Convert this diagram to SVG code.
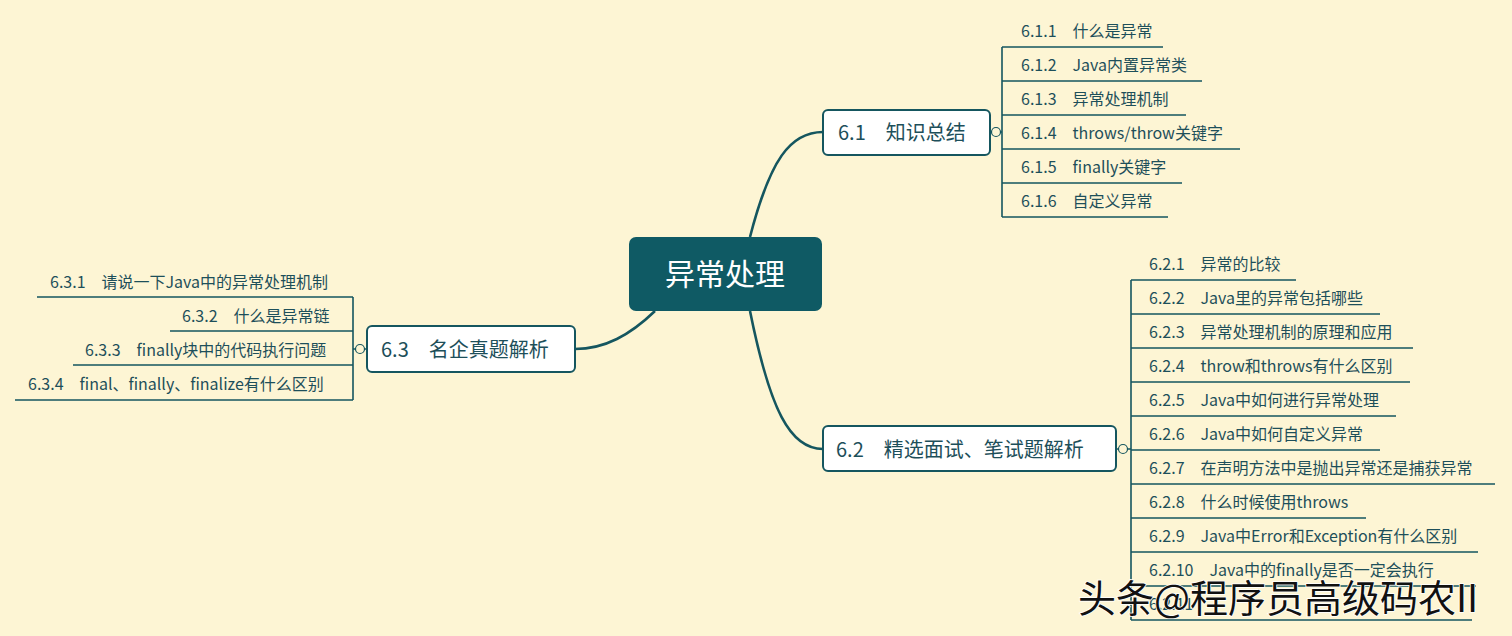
<svg xmlns="http://www.w3.org/2000/svg" width="1512" height="636" viewBox="0 0 1512 636">
<style>
text{font-family:"Noto Sans CJK SC","Liberation Sans",sans-serif;fill:#1d4f5a}
.it{font-size:16px}
.br{font-size:20px}
.ln{stroke:#15565f;stroke-width:1.6;fill:none}
.cv{stroke:#15565f;stroke-width:2.6;fill:none}
.bx{fill:#fff;stroke:#15565f;stroke-width:2}
.cc{fill:#fdf5d4;stroke:#15565f;stroke-width:1.2}
</style>
<rect width="1512" height="636" fill="#fdf5d4"/>
<g id="connectors">
<path class="cv" d="M750 237 C770 160 790 132 823 132"/>
<path class="cv" d="M750 311 C770 410 790 449 823 449"/>
<path class="cv" d="M655 311 C630 335 605 349 575 349"/>
<path class="ln" d="M990 132 H1002 M1002 47 V217 M1002 47 H1163 M1002 81 H1202 M1002 115 H1186 M1002 149 H1240 M1002 183 H1182 M1002 217 H1168"/>
<path class="ln" d="M1116 449 H1131 M1131 280 V620 M1131 280 H1296 M1131 314 H1380 M1131 348 H1413 M1131 382 H1410 M1131 416 H1396 M1131 450 H1380 M1131 484 H1495 M1131 518 H1366 M1131 552 H1478 M1131 586 H1476 M1131 620 H1472"/>
<path class="ln" d="M367 349 H353 M353 297 V400 M353 297 H37 M353 331 H170 M353 365 H73 M353 400 H15"/>
<circle class="cc" cx="996" cy="132" r="4.5"/>
<circle class="cc" cx="1123" cy="449" r="4.5"/>
<circle class="cc" cx="360" cy="349" r="4.5"/>
</g>
<g id="root"><rect x="629" y="237" width="193" height="74" rx="7" fill="#0f5a64"/><text x="725" y="285" text-anchor="middle" style="font-size:30px;fill:#fff">异常处理</text></g>
<g id="n61"><rect class="bx" x="823" y="110" width="167" height="45" rx="5"/><text class="br" x="838" y="140">6.1　知识总结</text></g>
<g id="n62"><rect class="bx" x="823" y="426" width="293" height="45" rx="5"/><text class="br" x="836" y="457">6.2　精选面试、笔试题解析</text></g>
<g id="n63"><rect class="bx" x="367" y="326" width="208" height="46" rx="5"/><text class="br" x="381" y="357">6.3　名企真题解析</text></g>
<g id="i61">
<text class="it" x="1021" y="37">6.1.1　什么是异常</text>
<text class="it" x="1021" y="71">6.1.2　Java内置异常类</text>
<text class="it" x="1021" y="105">6.1.3　异常处理机制</text>
<text class="it" x="1021" y="139">6.1.4　throws/throw关键字</text>
<text class="it" x="1021" y="173">6.1.5　finally关键字</text>
<text class="it" x="1021" y="207">6.1.6　自定义异常</text>
</g>
<g id="i62">
<text class="it" x="1149" y="270">6.2.1　异常的比较</text>
<text class="it" x="1149" y="304">6.2.2　Java里的异常包括哪些</text>
<text class="it" x="1149" y="338">6.2.3　异常处理机制的原理和应用</text>
<text class="it" x="1149" y="372">6.2.4　throw和throws有什么区别</text>
<text class="it" x="1149" y="406">6.2.5　Java中如何进行异常处理</text>
<text class="it" x="1149" y="440">6.2.6　Java中如何自定义异常</text>
<text class="it" x="1149" y="474">6.2.7　在声明方法中是抛出异常还是捕获异常</text>
<text class="it" x="1149" y="508">6.2.8　什么时候使用throws</text>
<text class="it" x="1149" y="542">6.2.9　Java中Error和Exception有什么区别</text>
<text class="it" x="1149" y="576">6.2.10　Java中的finally是否一定会执行</text>
<text class="it" x="1149" y="610">6.2.11</text>
</g>
<g id="i63">
<text class="it" x="50" y="288">6.3.1　请说一下Java中的异常处理机制</text>
<text class="it" x="182" y="322">6.3.2　什么是异常链</text>
<text class="it" x="85" y="356">6.3.3　finally块中的代码执行问题</text>
<text class="it" x="28" y="390">6.3.4　final、finally、finalize有什么区别</text>
</g>
<text x="1078" y="612" style="font-size:38px;fill:#111;stroke:#fff;stroke-width:1.5;paint-order:stroke">头条@程序员高级码农II</text>
</svg>
